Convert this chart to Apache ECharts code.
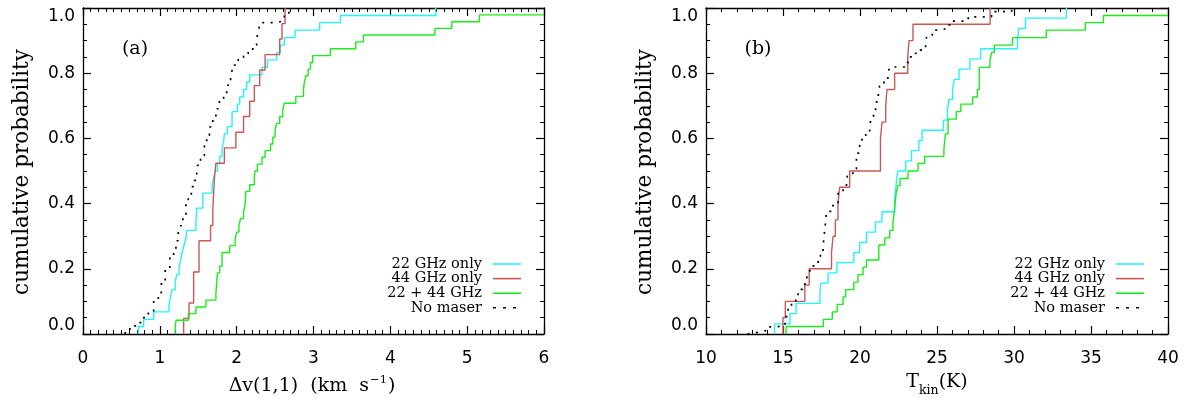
<!DOCTYPE html>
<html>
<head>
<meta charset="utf-8">
<script src="https://cdn.jsdelivr.net/npm/echarts@6/dist/echarts.min.js"></script>
<style>
  html, body { margin: 0; padding: 0; background: #ffffff; }
  #chart { width: 1195px; height: 404px; }
</style>
</head>
<body>
<div id="chart"></div>
<script>
// ---------- (a) NH3(1,1) line width, km s^-1 : jump positions and cumulative levels ----------
const dvOnly22 = [0.72, 0.79, 0.92, 1.12, 1.14, 1.16, 1.20, 1.22, 1.25, 1.27, 1.29, 1.315, 1.34, 1.35, 1.47, 1.48,
  1.56, 1.68, 1.70, 1.72, 1.75, 1.78, 1.81, 1.83, 1.84, 1.88, 1.94, 2.01, 2.04, 2.09, 2.13, 2.17, 2.33, 2.40,
  2.52, 2.57, 2.62, 2.76, 3.08, 3.35, 4.59];
const dvOnly22Cum = [0.023, 0.045, 0.068, 0.091, 0.114, 0.136, 0.159, 0.182, 0.205, 0.227, 0.250, 0.273, 0.295, 0.318, 0.341, 0.386,
  0.432, 0.455, 0.477, 0.500, 0.523, 0.545, 0.568, 0.591, 0.614, 0.636, 0.682, 0.705, 0.727, 0.750, 0.773, 0.795, 0.818, 0.841,
  0.864, 0.886, 0.909, 0.932, 0.955, 0.977, 1.000];

const dvOnly44 = [1.31, 1.38, 1.44, 1.51, 1.66, 1.69, 1.71, 1.73, 1.84, 1.99, 2.09, 2.17, 2.23, 2.30, 2.37, 2.56, 2.59, 2.63];
const dvOnly44Cum = [0.048, 0.095, 0.190, 0.286, 0.333, 0.381, 0.476, 0.524, 0.571, 0.619, 0.667, 0.714, 0.762, 0.810, 0.857, 0.905, 0.952, 1.000];

const dvBoth = [1.20, 1.21, 1.37, 1.47, 1.60, 1.73, 1.75, 1.78, 1.81, 1.91, 1.98, 2.00, 2.03, 2.05, 2.09, 2.11, 2.12,
  2.17, 2.23, 2.24, 2.27, 2.33, 2.37, 2.44, 2.47, 2.50, 2.52, 2.56, 2.60, 2.62, 2.77, 2.87, 2.88, 2.90, 2.93, 2.96,
  2.99, 3.22, 3.55, 3.65, 4.58, 4.80, 5.16];
const dvBothCum = [0.021, 0.042, 0.0625, 0.083, 0.104, 0.125, 0.1875, 0.208, 0.250, 0.271, 0.292, 0.3125, 0.333, 0.354, 0.375, 0.396, 0.4375,
  0.458, 0.479, 0.500, 0.521, 0.542, 0.5625, 0.583, 0.604, 0.625, 0.646, 0.667, 0.6875, 0.708, 0.729, 0.750, 0.771, 0.792, 0.8125, 0.833,
  0.854, 0.875, 0.896, 0.917, 0.9375, 0.958, 0.979];

const dvNone = [0.55, 0.61, 0.70, 0.76, 0.85, 0.92, 0.98, 1.02, 1.07, 1.13, 1.18, 1.21, 1.24, 1.26, 1.30, 1.34, 1.37, 1.41,
  1.45, 1.48, 1.49, 1.53, 1.58, 1.61, 1.645, 1.69, 1.73, 1.775, 1.83, 1.87, 1.92, 1.94, 1.97, 2.02, 2.09, 2.15, 2.21,
  2.26, 2.28, 2.30, 2.34, 2.52, 2.62, 2.68];
const dvNoneCum = [0.011, 0.025, 0.035, 0.050, 0.066, 0.109, 0.127, 0.163, 0.197, 0.240, 0.260, 0.286, 0.312, 0.332, 0.363, 0.402, 0.425, 0.452,
  0.471, 0.491, 0.517, 0.548, 0.584, 0.609, 0.635, 0.660, 0.691, 0.717, 0.738, 0.763, 0.780, 0.809, 0.825, 0.842, 0.860, 0.871, 0.886,
  0.907, 0.927, 0.948, 0.955, 0.961, 0.980, 1.000];

// ---------- (b) kinetic temperature, K ----------
const tkOnly22 = [14.45, 15.45, 15.85, 17.40, 17.45, 17.93, 18.50, 19.60, 19.98, 20.42, 21.00, 21.43, 22.25, 22.30, 22.37, 22.45,
  22.97, 23.34, 23.82, 24.03, 25.42, 25.68, 25.77, 26.01, 26.12, 26.43, 27.14, 27.83, 30.23, 30.31, 30.75, 33.40];
const tkOnly22Cum = [0.031, 0.0625, 0.094, 0.125, 0.156, 0.1875, 0.219, 0.250, 0.281, 0.3125, 0.344, 0.375, 0.406, 0.4375, 0.469, 0.500,
  0.531, 0.5625, 0.594, 0.625, 0.656, 0.6875, 0.719, 0.750, 0.781, 0.8125, 0.844, 0.875, 0.906, 0.9375, 0.969, 1.000];

const tkOnly44 = [15.00, 15.15, 16.42, 16.70, 18.15, 18.25, 18.40, 18.57, 18.68, 19.33, 21.33, 21.43, 21.67, 21.75, 22.25, 23.10, 23.18, 23.44, 28.45];
const tkOnly44Cum = [0.05, 0.10, 0.15, 0.20, 0.25, 0.30, 0.35, 0.40, 0.45, 0.50, 0.60, 0.65, 0.70, 0.75, 0.80, 0.85, 0.90, 0.95, 1.00];

const tkBoth = [15.20, 17.62, 18.20, 18.52, 18.90, 19.07, 19.60, 19.87, 20.20, 20.42, 21.22, 21.61, 21.93, 22.14, 22.25, 22.30,
  22.35, 22.45, 22.60, 23.12, 23.77, 24.20, 25.45, 25.50, 25.55, 25.72, 26.25, 26.55, 27.32, 27.62, 27.75, 28.44, 28.55, 28.72,
  29.90, 32.10, 34.63, 35.81];
const tkBothCum = [0.023, 0.045, 0.068, 0.091, 0.114, 0.136, 0.159, 0.182, 0.205, 0.227, 0.273, 0.295, 0.318, 0.341, 0.386, 0.409,
  0.432, 0.455, 0.477, 0.500, 0.523, 0.545, 0.568, 0.591, 0.614, 0.659, 0.682, 0.705, 0.727, 0.750, 0.818, 0.841, 0.864, 0.886,
  0.909, 0.932, 0.955, 0.977];

const tkNone = [12.70, 13.50, 13.95, 14.48, 15.13, 15.33, 15.55, 15.83, 15.98, 16.27, 16.53, 16.63, 16.95, 17.28, 17.43, 17.60,
  17.67, 17.78, 17.82, 18.15, 18.58, 18.90, 19.12, 19.22, 19.55, 19.77, 19.98, 20.13, 20.37, 20.63, 20.74, 20.88, 21.01, 21.19,
  21.27, 21.55, 21.81, 21.92, 22.90, 23.22, 23.60, 23.90, 24.26, 24.34, 24.70, 25.18, 25.62, 26.05, 27.03, 28.54, 29.85];
const tkNoneCum = [0.006, 0.011, 0.022, 0.025, 0.053, 0.076, 0.093, 0.112, 0.137, 0.153, 0.168, 0.194, 0.209, 0.225, 0.247, 0.268,
  0.302, 0.350, 0.376, 0.394, 0.432, 0.450, 0.471, 0.493, 0.507, 0.555, 0.578, 0.604, 0.619, 0.640, 0.664, 0.686, 0.712, 0.739,
  0.760, 0.776, 0.794, 0.819, 0.833, 0.850, 0.861, 0.871, 0.891, 0.917, 0.932, 0.937, 0.948, 0.960, 0.973, 0.989, 1.000];

// x-axis tick labels
const dvTicks = ['0', '1', '2', '3', '4', '5', '6'];
const tkTicks = ['10', '15', '20', '25', '30', '35', '40'];

const seriesNames = ['22 GHz only', '44 GHz only', '22 + 44 GHz', 'No maser'];
const seriesColors = ['#22f4ff', '#cd5757', '#1aee1a', '#000000'];

// Build an empirical-CDF staircase: start on the zero line, then one corner per jump.
// extendTo carries the last level on to the edge of the axis.
function staircase(xs, ys, extendTo) {
  const pts = [[xs[0], 0]];
  for (let i = 0; i < xs.length; i++) pts.push([xs[i], ys[i]]);
  if (extendTo !== undefined) pts.push([extendTo, ys[ys.length - 1]]);
  return pts;
}

const AX = '#000000';
const tickFont = { fontFamily: 'DejaVu Sans', fontSize: 17, color: '#000' };

function xAxisDef(gridIndex, position, min, max, interval, minorSplit, labels) {
  return {
    type: 'value', gridIndex, position, min, max, interval,
    axisLine: { show: true, onZero: false, lineStyle: { color: AX, width: 1.3 } },
    axisTick: { show: true, inside: true, length: 8, lineStyle: { color: AX, width: 1.2 } },
    minorTick: { show: true, splitNumber: minorSplit, length: 4, lineStyle: { color: AX, width: 1 } },
    splitLine: { show: false },
    axisLabel: labels ? Object.assign({
      show: true, margin: 16,
      formatter: v => labels[Math.round((v - min) / interval)]
    }, tickFont) : { show: false }
  };
}

function yAxisDef(gridIndex, position, showLabel) {
  return {
    type: 'value', gridIndex, position, min: 0, max: 1, interval: 0.2,
    axisLine: { show: true, onZero: false, lineStyle: { color: AX, width: 1.3 } },
    axisTick: { show: true, inside: true, length: 8, lineStyle: { color: AX, width: 1.2 } },
    minorTick: { show: true, splitNumber: 4, length: 4, lineStyle: { color: AX, width: 1 } },
    splitLine: { show: false },
    axisLabel: showLabel ? Object.assign({
      show: true, margin: 8,
      formatter: v => v.toFixed(1),
      verticalAlignMinLabel: 'bottom',
      verticalAlignMaxLabel: 'top'
    }, tickFont) : { show: false }
  };
}

function cdfSeries(name, pts, colorIdx, axisIdx) {
  return {
    name, type: 'line', step: 'end', data: pts,
    xAxisIndex: axisIdx, yAxisIndex: axisIdx,
    showSymbol: false, symbol: 'none', clip: true,
    lineStyle: {
      color: seriesColors[colorIdx],
      width: colorIdx === 3 ? 1.7 : 1.4,
      type: colorIdx === 3 ? [2, 6.5] : 'solid'
    },
    z: colorIdx === 3 ? 5 : 3
  };
}

// Legend block drawn with text + short key lines, right-aligned text as in IDL legends
function legendBlock(textRight, top) {
  const out = [];
  const rowGap = 14.6;
  for (let i = 0; i < seriesNames.length; i++) {
    const y = top + i * rowGap;
    out.push({
      type: 'text', x: textRight, y,
      style: { text: seriesNames[i], fill: '#000', font: '14.5px "DejaVu Serif"', align: 'right', verticalAlign: 'middle' }
    });
    out.push({
      type: 'line', shape: { x1: textRight + 11, y1: y, x2: textRight + 39, y2: y },
      style: { stroke: seriesColors[i], lineWidth: i === 3 ? 1.5 : 1.6, lineDash: i === 3 ? [3, 7] : null }
    });
  }
  return out;
}

const titleFont = '"DejaVu Serif"';

const option = {
  animation: false,
  backgroundColor: '#ffffff',
  grid: [
    { left: 83, top: 8, width: 461, height: 326, containLabel: false },
    { left: 706, top: 8, width: 462, height: 326, containLabel: false }
  ],
  xAxis: [
    xAxisDef(0, 'bottom', 0, 6, 1, 10, dvTicks),
    xAxisDef(0, 'top', 0, 6, 1, 10, null),
    xAxisDef(1, 'bottom', 10, 40, 5, 5, tkTicks),
    xAxisDef(1, 'top', 10, 40, 5, 5, null)
  ],
  yAxis: [
    yAxisDef(0, 'left', true),
    yAxisDef(0, 'right', false),
    yAxisDef(1, 'left', true),
    yAxisDef(1, 'right', false)
  ],
  series: [
    cdfSeries(seriesNames[0], staircase(dvOnly22, dvOnly22Cum), 0, 0),
    cdfSeries(seriesNames[1], staircase(dvOnly44, dvOnly44Cum), 1, 0),
    cdfSeries(seriesNames[2], staircase(dvBoth, dvBothCum, 6), 2, 0),
    cdfSeries(seriesNames[3], staircase(dvNone, dvNoneCum), 3, 0),
    cdfSeries(seriesNames[0], staircase(tkOnly22, tkOnly22Cum), 0, 2),
    cdfSeries(seriesNames[1], staircase(tkOnly44, tkOnly44Cum), 1, 2),
    cdfSeries(seriesNames[2], staircase(tkBoth, tkBothCum, 40), 2, 2),
    cdfSeries(seriesNames[3], staircase(tkNone, tkNoneCum), 3, 2)
  ],
  graphic: [
    // panel tags
    { type: 'text', x: 135, y: 49, style: { text: '(a)', fill: '#000', font: '19px ' + titleFont, align: 'center', verticalAlign: 'middle' } },
    { type: 'text', x: 758, y: 49, style: { text: '(b)', fill: '#000', font: '19px ' + titleFont, align: 'center', verticalAlign: 'middle' } },
    // y-axis titles
    { type: 'text', x: 22, y: 172, rotation: Math.PI / 2,
      style: { text: 'cumulative probability', fill: '#000', font: '21.5px ' + titleFont, align: 'center', verticalAlign: 'middle' } },
    { type: 'text', x: 645, y: 172, rotation: Math.PI / 2,
      style: { text: 'cumulative probability', fill: '#000', font: '21.5px ' + titleFont, align: 'center', verticalAlign: 'middle' } },
    // x-axis titles
    { type: 'text', x: 312, y: 385,
      style: {
        text: '{n|Δv(1,1)  (km  s}{sup|−1}{n|)}', align: 'center', verticalAlign: 'middle',
        rich: {
          n: { fontFamily: 'DejaVu Serif', fontSize: 19, color: '#000', lineHeight: 22, verticalAlign: 'bottom' },
          sup: { fontFamily: 'DejaVu Serif', fontSize: 11.5, color: '#000', lineHeight: 22, verticalAlign: 'top', padding: [0, 1, 0, 1] }
        }
      } },
    { type: 'text', x: 937, y: 385,
      style: {
        text: '{n|T}{sub|kin}{n|(K)}', align: 'center', verticalAlign: 'middle',
        rich: {
          n: { fontFamily: 'DejaVu Serif', fontSize: 19, color: '#000', lineHeight: 24, verticalAlign: 'top' },
          sub: { fontFamily: 'DejaVu Serif', fontSize: 12.5, color: '#000', lineHeight: 24, verticalAlign: 'bottom' }
        }
      } }
  ].concat(legendBlock(482, 264)).concat(legendBlock(1105, 264))
};

const chart = echarts.init(document.getElementById('chart'), null, { renderer: 'canvas' });
chart.setOption(option);
</script>
</body>
</html>
